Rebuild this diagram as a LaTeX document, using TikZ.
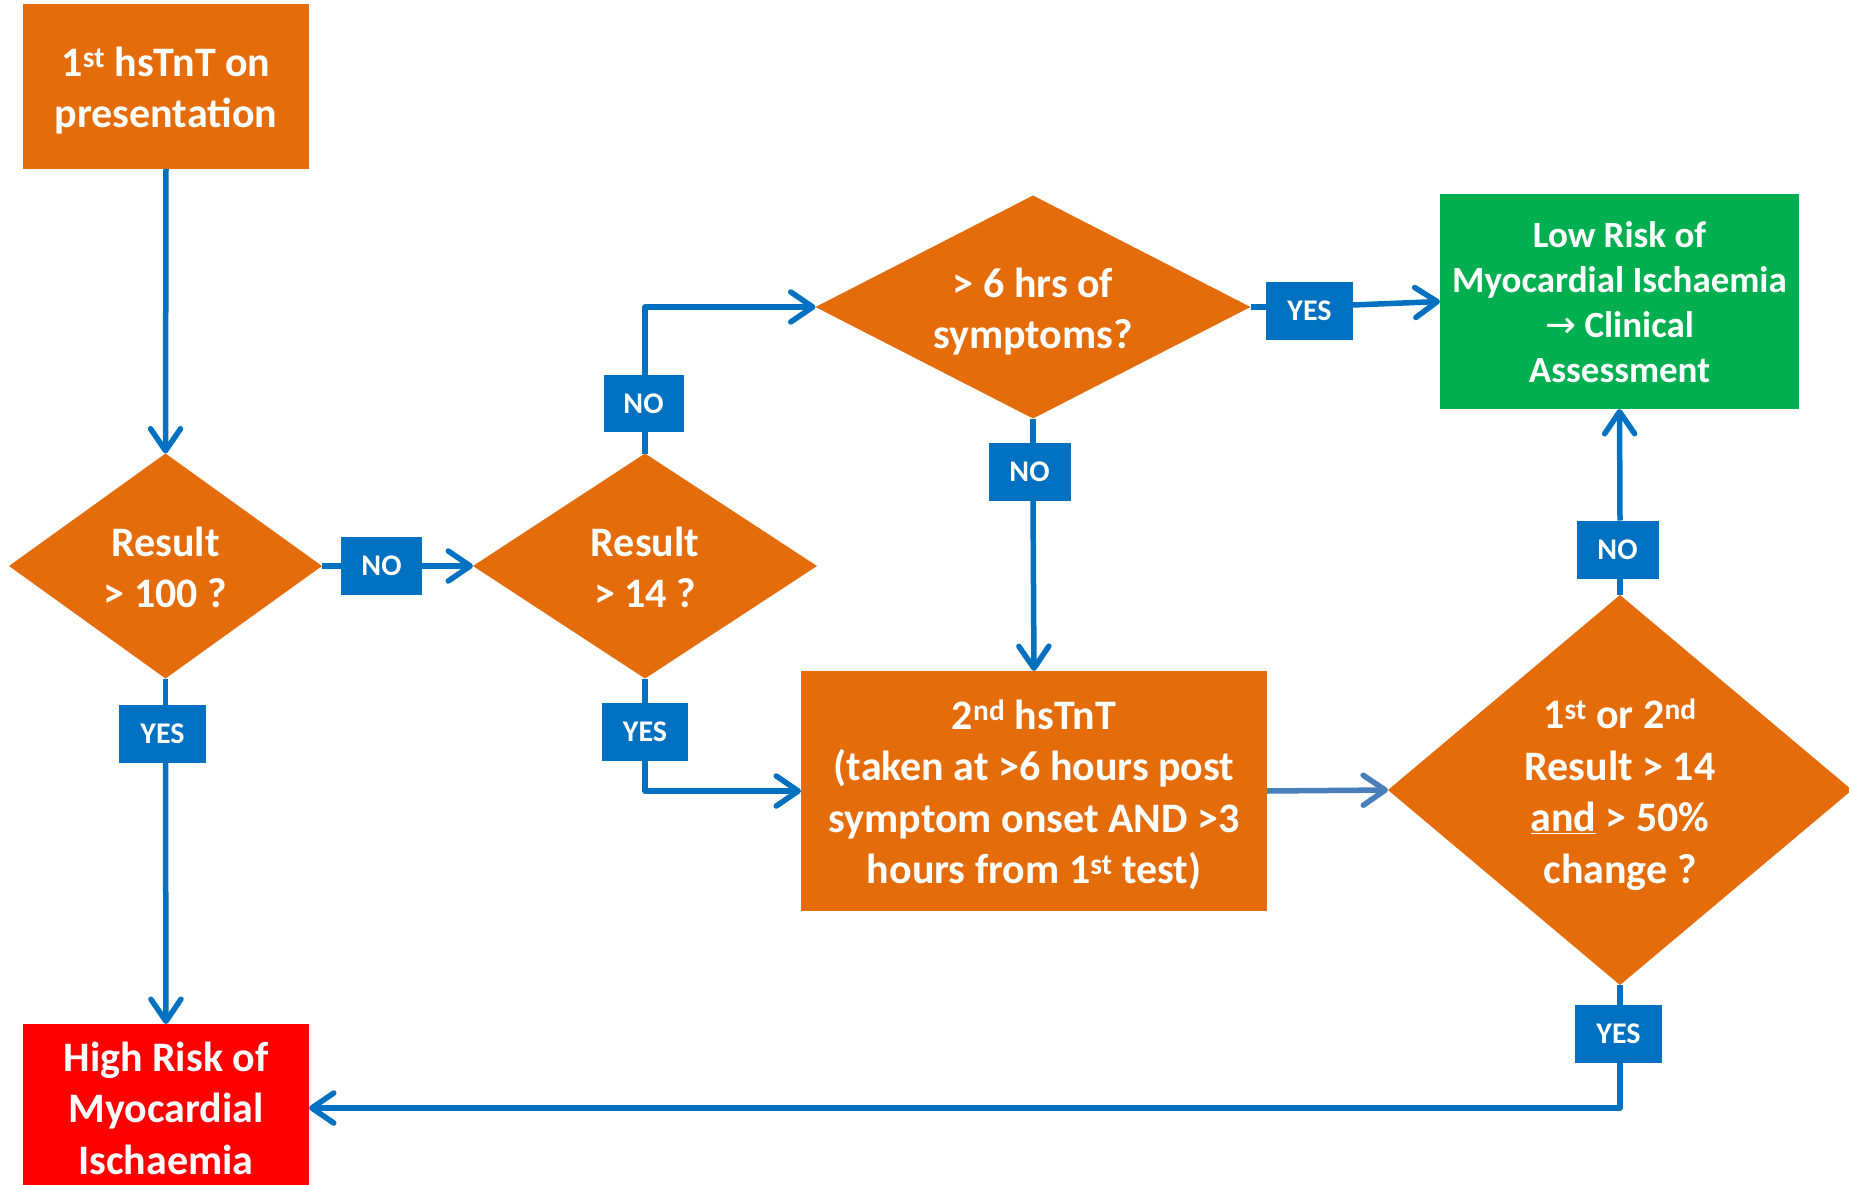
\documentclass[tikz,border=0pt]{standalone}
\usepackage{fontspec}
\setmainfont{Carlito}
\newfontfamily\arrfont{DejaVu Sans}
\usetikzlibrary{arrows.meta,shapes.geometric}
\definecolor{ora}{HTML}{E46C0A}
\definecolor{blu}{HTML}{0070C0}
\definecolor{lblu}{HTML}{4A7EBB}
\definecolor{grn}{HTML}{00B050}
\definecolor{rd}{HTML}{FF0000}
\newcommand\bigfnt{\bfseries\fontsize{42}{51.5}\selectfont}
\newcommand\midfnt{\bfseries\fontsize{37}{45}\selectfont}
\newcommand\tagfnt{\bfseries\fontsize{30}{36}\selectfont}
\begin{document}
\begin{tikzpicture}[x=1pt,y=-1pt,
  every node/.style={inner sep=0pt, outer sep=0pt},
  ln/.style={draw=blu, line width=5.5pt, line join=round},
  arr/.style={ln, -{Straight Barb[length=22pt,width=30pt,line cap=round,line join=round]}},
  obox/.style={rectangle, fill=#1},
  dia/.style={diamond, fill=ora},
  txt/.style={text=white, align=center, font=\bigfnt},
  tag/.style={rectangle, fill=blu, text=white, font=\tagfnt, minimum height=58pt}]
\useasboundingbox (0,0) rectangle (1849,1185);
\clip (0,0) rectangle (1849,1185);

% boxes
\node[obox=ora, minimum width=286pt, minimum height=165pt] (b1) at (166,86.5) {};
\node[txt, yshift=-4pt] at (b1.center) {1\textsuperscript{st} hsTnT on\\presentation};
\node[obox=rd, minimum width=286pt, minimum height=168pt] (red) at (166,1108) {};
\node[txt] at (red.center) {High Risk of\\Myocardial\\Ischaemia};
\node[obox=grn, minimum width=359pt, minimum height=215pt] (green) at (1619.5,301.5) {};
\node[txt, font=\midfnt, yshift=-1pt] at (green.center) {Low Risk of\\Myocardial Ischaemia\\{\arrfont\mdseries →} Clinical\\Assessment};
\node[obox=ora, minimum width=466pt, minimum height=240pt] (box2) at (1034,791) {};
\node[txt, yshift=-4pt] at (box2.center) {2\textsuperscript{nd} hsTnT\\(taken at >6 hours post\\symptom onset AND >3\\hours from 1\textsuperscript{st} test)};

% diamonds
\node[dia, minimum width=313pt, minimum height=225pt] (d1) at (165.5,566) {};
\node[txt, yshift=-1.5pt] at (d1.center) {Result\\> 100 ?};
\node[dia, minimum width=344pt, minimum height=225pt] (d2) at (645,566) {};
\node[txt, yshift=-1.5pt] at (d2.center) {Result\\> 14 ?};
\node[dia, minimum width=435pt, minimum height=223pt] (d3) at (1033,307) {};
\node[txt, yshift=-4.5pt] at (d3.center) {> 6 hrs of\\symptoms?};
\node[dia, minimum width=464pt, minimum height=390pt] (d4) at (1620,790) {};
\node[txt, yshift=-4.5pt] at (d4.center) {1\textsuperscript{st} or 2\textsuperscript{nd}\\Result > 14\\\underline{and} > 50\%\\change ?};

% tags
\node[tag, minimum width=81pt] (no1) at (381.5,566) {NO};
\node[tag, minimum width=87pt] (yes1) at (162.5,734) {YES};
\node[tag, minimum width=80pt, minimum height=57pt] (no2) at (643.5,403.5) {NO};
\node[tag, minimum width=86pt] (yes2) at (645,731.5) {YES};
\node[tag, minimum width=87pt] (yes3) at (1309.5,310.5) {YES};
\node[tag, minimum width=82pt] (no3) at (1029.5,471.5) {NO};
\node[tag, minimum width=82pt] (no4) at (1617.5,549.5) {NO};
\node[tag, minimum width=87pt] (yes4) at (1618.5,1033.5) {YES};

% connectors
\draw[arr] (b1.south) -- (d1.north);
\draw[ln] (d1.east) -- (no1.west);
\draw[arr] (no1.east) -- (d2.west);
\draw[ln] (d1.south) -- (d1.south |- yes1.north);
\draw[arr] (d1.south |- yes1.south) -- (red.north);
\draw[ln] (d2.north) -- (d2.north |- no2.south);
\draw[arr] (d2.north |- no2.north) |- (d3.west);
\draw[ln] (d2.south) -- (yes2.north);
\draw[arr] (yes2.south) |- (box2.west);
\draw[ln] (d3.east) -- (d3.east -| yes3.west);
\draw[arr] ([yshift=5.5pt]yes3.east) -- (green.west);
\draw[ln] (d3.south) -- (d3.south |- no3.north);
\draw[arr] (d3.south |- no3.south) -- (box2.north);
\draw[arr, draw=lblu] (box2.east) -- (d4.west);
\draw[ln] (d4.north) -- (d4.north |- no4.south);
\draw[arr] (d4.north |- no4.north) -- (green.south);
\draw[ln] (d4.south) -- (d4.south |- yes4.north);
\draw[arr] (d4.south |- yes4.south) |- (red.east);
\end{tikzpicture}
\end{document}
